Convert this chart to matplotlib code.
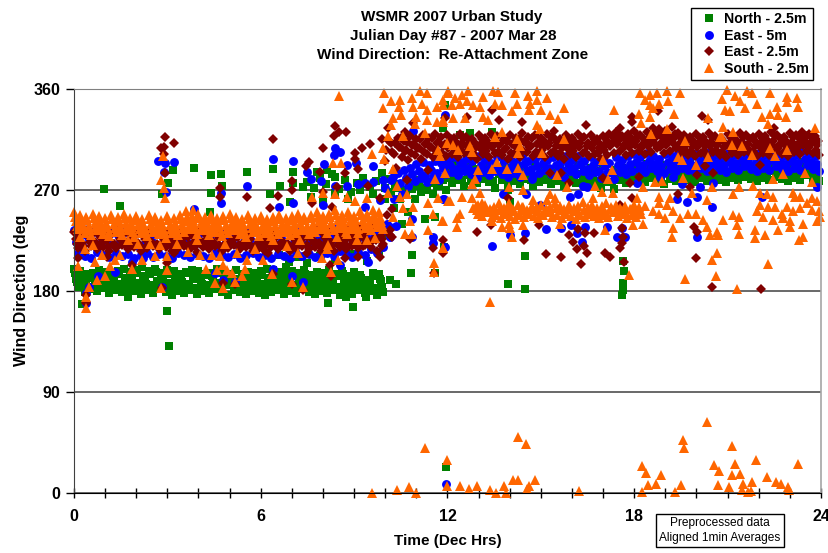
import numpy as np
import matplotlib
matplotlib.use('Agg')
import matplotlib.pyplot as plt

plt.rcParams['font.family'] = ['Liberation Sans', 'DejaVu Sans']

# continuous record: one value per 0.2 h, several passes per sensor
north_a = [200, 198, 186, 196, 199, 197, 195, 198, 200, 197,
           199, 201, 198, 200, 196, 199, 198, 195, 197, 199,
           198, 194, 196, 200, 197, 195, 199, 193, 197, 196,
           198, 200, 199, 197, 201, 198, 196, 199, 194, 197,
           196, 199, 195, 198, 193, 197, 194, 190, 196, 195,
           262, 268, 272, 270, 276, 279, 281, 276, 283, 280,
           290, 292, 288, 293, 290, 289, 291, 287, 289, 292,
           290, 288, 291, 287, 293, 289, 286, 288, 291, 287,
           289, 292, 288, 290, 287, 291, 285, 288, 290, 289,
           292, 289, 293, 290, 288, 292, 294, 291, 289, 293,
           290, 294, 291, 289, 293, 295, 292, 290, 294, 291,
           293, 290, 294, 292, 289, 293, 291, 295, 292, 290]
north_b = [191, 187, 193, 185, 190, 188, 192, 186, 189, 191,
           187, 190, 185, 189, 192, 187, 190, 188, 186, 191,
           188, 185, 190, 187, 192, 186, 189, 185, 188, 190,
           186, 183, 189, 187, 190, 185, 188, 191, 186, 189,
           187, 190, 184, 188, 186, 190, 185, 187, 183, 189,
           230, 254, 262, 268, 271, 274, 270, 277, 274, 279,
           281, 284, 279, 283, 280, 285, 282, 278, 284, 281,
           283, 280, 285, 279, 282, 284, 280, 283, 279, 285,
           281, 284, 280, 283, 278, 282, 277, 284, 281, 283,
           285, 282, 286, 283, 280, 285, 283, 286, 284, 282,
           286, 283, 287, 284, 282, 286, 284, 287, 285, 283,
           286, 284, 287, 285, 283, 286, 284, 288, 285, 283]
north_c = [184, 179, 182, 180, 183, 178, 181, 179, 182, 180,
           177, 181, 178, 182, 179, 176, 180, 178, 181, 177,
           180, 178, 182, 179, 176, 181, 179, 177, 180, 178,
           176, 179, 181, 177, 180, 178, 182, 179, 177, 180,
           178, 181, 176, 179, 177, 181, 178, 180, 176, 179,
           190, 186, 240, 250, 262, 268, 272, 266, 274, 270,
           276, 279, 274, 278, 276, 280, 277, 272, 279, 276,
           278, 275, 280, 274, 277, 279, 275, 278, 274, 280,
           276, 279, 275, 278, 272, 277, 271, 279, 276, 278,
           280, 277, 281, 278, 275, 280, 278, 281, 279, 277,
           281, 278, 282, 279, 277, 281, 279, 282, 280, 278,
           281, 279, 282, 280, 278, 281, 279, 283, 280, 278]
north_am_d = [196, 193, 195, 192, 194, 196, 193, 195, 192, 194,
              196, 193, 195, 197, 193, 195, 192, 194, 196, 193,
              192, 195, 193, 196, 192, 194, 191, 195, 193, 196,
              194, 192, 195, 193, 196, 194, 191, 195, 193, 192,
              194, 191, 193, 195, 190, 194, 192, 188, 193, 191]
north_am_e = [188, 185, 184, 187, 185, 183, 186, 184, 187, 185,
              183, 186, 184, 187, 185, 182, 186, 184, 185, 183,
              186, 184, 187, 183, 185, 187, 184, 182, 186, 184,
              182, 185, 187, 183, 186, 184, 187, 185, 183, 186,
              184, 187, 182, 185, 183, 187, 184, 186, 182, 184]
north_extra_t = [0.96, 1.48, 3.86, 4.40, 4.72, 5.56, 6.39, 4.40, 4.76, 6.30, 6.62, 7.04, 7.04, 6.94, 7.36,
                 7.81, 8.13, 8.39, 3.18, 3.02, 2.83, 4.37, 2.99, 3.05, 8.16, 8.96, 9.38, 8.74, 1.74, 0.26,
                 11.28, 11.6, 10.86, 10.83, 11.6, 11.92, 11.86, 14.49, 13.94, 14.49, 17.64, 17.67, 17.64, 17.64, 17.61,
                 13.94, 14.0, 12.4, 12.72, 13.43, 11.89, 11.95,
                 7.5, 7.7, 7.9, 8.1, 8.3, 8.5, 8.7, 8.9, 9.1, 9.3, 9.5, 9.7, 9.9, 10.1, 10.3,
                 7.6, 8.0, 8.4, 8.8, 9.2, 9.6, 10.0, 6.6, 6.9, 7.2, 7.5, 7.9, 8.4, 8.9, 9.4, 9.8]
north_extra_v = [271, 256, 290, 283, 284, 286, 289, 267, 274, 266, 274, 286, 276, 259, 273,
                 286, 288, 282, 288, 276, 266, 250, 162, 131, 169, 166, 175, 175, 175, 168,
                 244, 246, 212, 196, 196, 346, 325, 211, 186, 182, 207, 198, 187, 181, 176,
                 270, 259, 319, 321, 322, 219, 23,
                 277, 272, 281, 275, 284, 271, 279, 268, 276, 281, 273, 278, 285, 280, 275,
                 264, 259, 267, 262, 270, 266, 272, 212, 206, 210, 205, 211, 208, 213, 207, 215]

east5_a = [234, 232, 230, 233, 231, 234, 232, 230, 233, 231,
           232, 234, 231, 233, 230, 232, 234, 231, 233, 232,
           230, 233, 231, 234, 232, 230, 233, 231, 232, 234,
           232, 230, 233, 231, 234, 232, 235, 233, 231, 234,
           236, 233, 235, 232, 236, 234, 237, 235, 238, 240,
           272, 279, 285, 288, 290, 293, 295, 292, 296, 294,
           297, 299, 295, 298, 296, 300, 297, 294, 299, 296,
           298, 295, 300, 296, 298, 301, 297, 299, 295, 300,
           297, 300, 296, 299, 295, 298, 294, 299, 297, 300,
           302, 299, 303, 300, 298, 302, 300, 303, 301, 299,
           303, 300, 304, 301, 299, 303, 301, 304, 302, 300,
           303, 301, 304, 302, 300, 303, 301, 305, 302, 300]
east5_b = [224, 221, 226, 220, 223, 225, 221, 224, 222, 226,
           220, 223, 225, 221, 224, 222, 220, 225, 223, 221,
           224, 226, 222, 220, 225, 223, 221, 224, 226, 222,
           220, 224, 222, 225, 221, 223, 226, 222, 224, 227,
           225, 228, 224, 226, 229, 225, 228, 226, 230, 232,
           240, 262, 276, 281, 284, 287, 283, 288, 285, 290,
           292, 289, 293, 290, 287, 292, 289, 293, 290, 288,
           291, 288, 293, 289, 291, 294, 290, 292, 288, 293,
           290, 293, 289, 292, 287, 291, 286, 292, 290, 293,
           295, 292, 296, 293, 291, 295, 293, 296, 294, 292,
           296, 293, 297, 294, 292, 296, 294, 297, 295, 293,
           296, 294, 297, 295, 293, 296, 294, 298, 295, 293]
east5_c = [214, 211, 209, 215, 212, 210, 214, 211, 213, 209,
           212, 214, 210, 213, 211, 209, 214, 212, 210, 213,
           211, 209, 214, 212, 210, 213, 209, 212, 214, 210,
           212, 209, 213, 211, 209, 214, 211, 213, 210, 212,
           214, 211, 216, 213, 210, 215, 212, 217, 214, 219,
           228, 238, 266, 274, 278, 281, 277, 282, 279, 284,
           286, 283, 287, 284, 281, 286, 283, 287, 284, 282,
           285, 282, 287, 283, 285, 288, 284, 286, 282, 287,
           284, 287, 283, 286, 281, 285, 280, 286, 284, 287,
           289, 286, 290, 287, 285, 289, 287, 290, 288, 286,
           290, 287, 291, 288, 286, 290, 288, 291, 289, 287,
           290, 288, 291, 289, 287, 290, 288, 292, 289, 287]
east5_extra_t = [2.70, 2.92, 3.21, 2.89, 2.96, 3.86, 4.72, 4.72, 5.56, 6.39, 7.04, 6.59, 7.04, 7.49, 7.61, 7.94,
                 8.03, 8.39, 8.55, 8.35, 8.77, 9.06, 8.39, 8.77, 9.12, 9.35, 9.61, 9.93, 10.25, 9.61, 8.0, 9.35,
                 9.83, 10.15, 10.86, 10.86, 11.53, 11.53, 11.92, 11.89, 11.92, 10.89,
                 0.39, 0.39, 0.48, 0.77, 1.32, 1.86, 2.22, 2.83, 4.79, 5.17, 7.0, 7.36, 6.39, 8.55, 9.45, 4.53,
                 13.43, 13.78, 14.52, 14.72, 15.16, 15.65, 15.97, 16.16, 16.32, 16.42, 14.49, 14.01, 11.86,
                 17.45, 17.7, 17.61, 17.12, 12.98, 20.02, 19.37, 19.69, 20.02, 20.5, 19.53, 20.53, 20.11, 22.1,
                 23.87, 18.83, 19.24, 16.35, 16.19, 15.94, 16.48, 14.97, 18.09, 11.95]
east5_extra_v = [296, 294, 295, 286, 268, 253, 267, 258, 274, 298, 296, 255, 258, 286, 280, 278,
                 293, 307, 304, 301, 292, 294, 274, 274, 275, 276, 277, 279, 282, 291, 257, 255,
                 261, 237, 244, 228, 228, 223, 219, 262, 337, 323,
                 178, 169, 184, 193, 197, 206, 209, 184, 190, 188, 193, 188, 200, 203, 206, 196,
                 220, 266, 266, 280, 235, 236, 239, 232, 224, 237, 232, 230, 262,
                 228, 228, 236, 237, 250, 228, 262, 259, 264, 255, 275, 276, 273, 264,
                 273, 282, 282, 274, 266, 264, 273, 257, 276, 8]

east25_a = [233, 231, 234, 232, 230, 233, 231, 234, 232, 230,
            233, 231, 234, 232, 235, 233, 231, 234, 232, 230,
            233, 231, 234, 232, 230, 234, 232, 233, 231, 234,
            232, 230, 233, 231, 234, 232, 230, 233, 231, 234,
            232, 235, 233, 231, 234, 232, 236, 233, 237, 240,
            296, 312, 316, 314, 318, 315, 319, 316, 320, 317,
            319, 316, 320, 317, 315, 319, 316, 320, 318, 315,
            319, 316, 321, 317, 319, 316, 320, 317, 315, 319,
            316, 320, 317, 319, 315, 318, 320, 322, 318, 320,
            323, 319, 322, 325, 320, 323, 326, 321, 319, 317,
            320, 317, 321, 318, 316, 320, 318, 321, 319, 317,
            320, 318, 322, 319, 317, 321, 319, 322, 320, 318]
east25_b = [226, 223, 228, 224, 227, 225, 222, 226, 224, 228,
            223, 226, 224, 222, 227, 225, 223, 226, 228, 224,
            222, 226, 224, 227, 223, 225, 228, 224, 226, 222,
            225, 223, 227, 224, 222, 226, 224, 228, 225, 223,
            227, 224, 226, 223, 227, 225, 228, 224, 227, 229,
            248, 302, 308, 306, 310, 307, 311, 308, 312, 309,
            311, 308, 312, 309, 307, 311, 308, 312, 310, 307,
            311, 308, 313, 309, 311, 308, 312, 309, 307, 311,
            308, 312, 309, 311, 307, 310, 312, 314, 310, 312,
            314, 311, 313, 316, 312, 314, 316, 312, 310, 309,
            312, 309, 313, 310, 308, 312, 310, 313, 311, 309,
            312, 310, 314, 311, 309, 313, 311, 314, 312, 310]
east25_c = [218, 216, 220, 217, 219, 216, 218, 221, 217, 219,
            216, 218, 220, 217, 219, 216, 218, 220, 217, 215,
            219, 217, 220, 216, 218, 221, 217, 219, 216, 218,
            216, 219, 217, 220, 216, 218, 220, 217, 219, 216,
            218, 216, 219, 217, 220, 218, 221, 219, 216, 222,
            230, 290, 299, 297, 301, 298, 302, 299, 303, 300,
            302, 299, 303, 300, 298, 302, 299, 303, 301, 298,
            302, 299, 304, 300, 302, 299, 303, 300, 298, 302,
            299, 303, 300, 302, 298, 301, 303, 305, 301, 303,
            305, 302, 304, 307, 303, 305, 307, 303, 301, 300,
            303, 300, 304, 301, 299, 303, 301, 304, 302, 300,
            303, 301, 305, 302, 300, 304, 302, 305, 303, 301]
east25_am_d = [222, 220, 224, 221, 223, 219, 222, 225, 220, 223,
               221, 219, 223, 220, 224, 222, 219, 223, 221, 220,
               224, 221, 223, 220, 222, 225, 221, 223, 220, 222,
               219, 223, 221, 224, 220, 222, 225, 221, 223, 220,
               223, 220, 222, 225, 221, 224, 220, 223, 225, 226]
east25_pm_d = [306, 304, 308, 305, 303, 307, 304, 308, 305, 303,
               307, 304, 308, 305, 303, 307, 305, 308, 304, 306,
               303, 307, 305, 308, 304, 306, 309, 305, 303, 307,
               305, 308, 304, 307, 303, 306, 309, 311, 307, 308,
               310, 307, 309, 312, 308, 310, 312, 308, 306, 305,
               308, 305, 309, 306, 304, 308, 306, 309, 307, 305,
               308, 306, 310, 307, 305, 309, 307, 310, 308, 306]
east25_pm_e = [314, 312, 316, 313, 311, 315, 312, 316, 313, 311,
               315, 312, 316, 313, 311, 315, 313, 317, 312, 314,
               311, 315, 313, 316, 312, 314, 317, 313, 311, 315,
               313, 316, 312, 315, 311, 314, 317, 319, 315, 316,
               318, 315, 317, 320, 316, 318, 320, 316, 314, 313,
               316, 313, 317, 314, 312, 316, 314, 317, 315, 313,
               316, 314, 318, 315, 313, 317, 315, 318, 316, 314]
east25_extra_t = [2.92, 3.21, 2.80, 2.89, 2.89, 2.92, 4.69, 4.69, 5.56, 6.39, 6.55, 6.30, 7.0, 7.0, 7.55, 7.45,
                  7.9, 8.0, 8.39, 8.35, 8.51, 8.74, 9.03, 9.03, 9.25, 9.51, 9.9, 10.09, 9.12, 8.71, 8.45, 8.0,
                  8.29, 7.65, 9.45, 9.83, 10.22, 10.7, 11.37, 11.92, 10.89, 10.63, 10.8, 11.53, 11.86, 11.86,
                  10.22, 10.15, 0.13, 0.39, 0.39, 1.06, 1.86, 2.99, 3.21, 6.23, 7.49, 8.22, 8.26, 8.71, 9.12,
                  9.83, 9.9, 2.83, 4.79, 5.17, 7.0, 7.36, 6.39, 11.57,
                  13.65, 14.39, 16.45, 17.54, 17.93, 17.93, 18.76, 18.8, 20.18, 20.37, 13.43, 12.63, 22.49, 15.42,
                  12.95, 13.4, 13.94, 13.98, 14.46, 14.94, 15.16, 15.65, 16.29, 16.16, 16.48, 16.39, 16.03, 15.9,
                  16.19, 16.42, 16.71, 17.06, 17.22, 17.61, 17.64, 17.61, 17.54, 17.67, 17.86, 18.15, 15.9, 17.0,
                  17.54, 17.93, 19.41, 19.79, 19.92, 20.02, 19.98, 20.5, 22.07, 22.04, 20.27, 20.02, 20.53, 15.29,
                  15.65]
east25_extra_v = [317, 312, 307, 308, 302, 285, 272, 264, 264, 315, 265, 254, 278, 270, 295, 291,
                  286, 307, 327, 318, 322, 322, 303, 298, 307, 311, 315, 325, 289, 285, 273, 268,
                  255, 258, 274, 263, 253, 279, 288, 334, 330, 322, 226, 218, 225, 214,
                  228, 234, 209, 176, 169, 210, 203, 205, 214, 214, 214, 203, 193, 209, 210,
                  210, 220, 183, 187, 186, 186, 181, 195, 196,
                  332, 331, 328, 325, 335, 331, 340, 324, 336, 332, 341, 335, 325, 323,
                  233, 239, 263, 250, 225, 239, 213, 210, 204, 217, 214, 220, 224, 230,
                  235, 232, 232, 214, 210, 236, 228, 223, 218, 206, 276, 282, 276, 281,
                  257, 263, 266, 273, 237, 233, 209, 184, 182, 292, 291, 283, 285, 285,
                  285]

# south sensor sits on a tight band only in the morning and mid afternoon
south_am_a = [250, 248, 246, 249, 247, 245, 248, 246, 249, 245,
              247, 244, 248, 246, 243, 247, 245, 248, 251, 247,
              249, 246, 248, 245, 247, 249, 246, 244, 248, 245,
              247, 244, 246, 248, 245, 247, 249, 246, 248, 250,
              247, 249, 252, 248, 250, 247, 251, 249, 252, 250]
south_am_b = [242, 240, 238, 241, 239, 237, 240, 238, 241, 237,
              239, 236, 240, 238, 235, 239, 237, 240, 242, 239,
              241, 238, 240, 237, 239, 241, 238, 236, 240, 237,
              239, 236, 238, 240, 237, 239, 241, 238, 240, 242,
              239, 241, 243, 240, 242, 239, 243, 241, 244, 242]
south_am_c = [235, 232, 230, 234, 231, 229, 233, 230, 234, 228,
              232, 229, 233, 231, 227, 232, 230, 233, 235, 231,
              234, 230, 233, 229, 232, 234, 231, 228, 233, 229,
              232, 229, 231, 233, 230, 232, 234, 231, 233, 235,
              232, 234, 236, 233, 235, 232, 236, 234, 237, 235]
south_am_d = [246, 244, 243, 245, 242, 241, 244, 242, 245, 241,
              243, 240, 244, 242, 240, 243, 241, 244, 246, 243,
              245, 242, 244, 241, 243, 245, 242, 240, 244, 241,
              243, 240, 242, 244, 241, 243, 245, 243, 245, 246,
              244, 246, 248, 245, 247, 244, 248, 246, 248, 246]
south_am_e = [238, 236, 234, 237, 235, 233, 236, 234, 237, 233,
              235, 233, 236, 234, 232, 235, 233, 236, 238, 235,
              237, 234, 236, 233, 235, 237, 234, 232, 236, 233,
              235, 232, 234, 236, 233, 235, 237, 234, 236, 238,
              235, 237, 239, 236, 238, 235, 240, 238, 241, 239]
south_pm_a = [256, 254, 257, 253, 255, 258, 254, 256, 253, 257,
              255, 252, 256, 254, 257, 253, 255, 258, 256, 253,
              257, 254, 256, 259, 255, 257, 254, 256, 258, 255,
              257, 254, 256, 253, 257, 255]
south_pm_b = [249, 247, 250, 246, 248, 245, 249, 247, 244, 248,
              246, 249, 247, 245, 248, 250, 246, 248, 245, 249,
              247, 244, 248, 246, 249, 247, 245, 248, 246, 250,
              247, 249, 245, 248, 246, 249]
south_pm_c = [252, 250, 253, 251, 249, 252, 250, 253, 251, 249,
              252, 250, 253, 251, 249, 252, 250, 254, 252, 250,
              253, 251, 249, 252, 251, 253, 250, 252, 249, 253,
              251, 252, 250, 253, 251, 252]
south_extra_t = [0.39, 0.39, 0.49, 0.75, 1.0, 1.16, 1.32, 1.48, 1.85, 2.17, 2.6, 2.8, 3.0, 2.98, 2.76, 3.67, 4.05,
                 4.23, 4.42, 4.53, 4.8, 4.58, 4.8, 4.69, 4.9, 5.07, 5.17, 5.39, 5.49, 5.55, 5.23, 6.08, 6.37, 6.99,
                 7.35, 7.2, 7.96, 8.12, 8.49, 8.25, 8.17, 8.44, 8.76, 7.26, 6.83, 9.08, 9.4, 9.67, 0.14, 0.67, 0.89,
                 0.35, 0.19, 0.62, 2.07, 1.75, 2.44, 3.3, 3.94, 4.85, 5.82, 6.4,
                 2.8, 2.89, 2.92, 2.87, 3.83, 8.52, 8.33, 8.58, 9.56, 9.94, 9.96, 10.26, 7.64, 8.01, 8.39, 9.4, 9.03,
                 8.76, 10.1, 10.37, 10.47, 10.69, 10.9, 10.58, 10.26, 11.38, 11.71, 12.03, 11.52, 11.81, 11.38, 10.8,
                 10.63, 10.85, 11.57, 11.57, 11.87,
                 9.97, 9.94, 10.2, 10.47, 10.45, 10.85, 10.5, 10.26, 10.2, 10.08, 11.12, 11.33, 10.9, 11.17, 11.33,
                 11.65, 11.87, 12.03, 11.0, 11.33, 11.65, 11.87, 10.96, 11.28, 10.58, 11.71, 11.76, 11.6, 11.92,
                 12.03, 12.24, 12.46, 12.67, 11.87, 12.13, 12.4, 12.62, 12.83, 13.15, 13.47, 13.63, 14.17, 14.6,
                 14.87, 15.19, 14.87, 14.65, 14.22, 14.06, 13.74, 13.53, 13.05, 13.15, 13.31, 12.56, 12.19, 11.87,
                 11.97, 12.19, 12.35, 12.72, 12.78, 13.53, 13.74, 14.63, 15.0, 15.29, 15.54, 15.75, 14.87, 14.97,
                 17.36, 18.15, 18.22, 18.51, 18.19, 18.51, 18.72, 19.04, 19.47, 18.51, 18.35, 18.78, 19.1, 18.61,
                 19.29, 18.53, 19.04, 20.36, 20.81, 20.97, 21.24, 21.61, 21.77, 21.4, 21.56, 21.93, 22.36, 22.9,
                 23.22, 22.9, 23.27, 22.58, 22.36, 22.63, 22.1, 22.88, 22.31, 20.92, 21.08, 20.84, 21.16, 20.76,
                 23.81, 13.58, 14.22, 14.33, 14.28, 13.42, 13.9, 14.28, 14.44, 12.99, 12.88, 12.78, 15.51, 15.75,
                 15.03, 17.0, 17.28, 17.17, 19.63, 19.42, 19.52, 20.0, 20.38, 21.45, 21.13, 22.52, 22.36, 22.9,
                 21.77, 20.81, 19.56, 18.88, 18.67, 22.79, 22.47, 23.49, 23.7,
                 12.08, 12.46, 12.78, 13.05, 13.1, 12.83, 12.99, 12.4, 12.3, 12.3, 11.85, 13.42, 13.39, 13.74, 13.96,
                 13.69, 13.96, 14.44, 13.96, 14.01, 14.06, 11.87, 15.29, 15.19, 15.45, 14.76, 14.44, 14.87, 15.83,
                 16.74, 16.95, 17.33, 16.69, 18.29, 18.08, 18.35, 18.61, 18.29, 17.97, 17.06, 15.62, 14.44, 17.84,
                 18.78, 18.78, 19.15, 19.04, 18.78, 18.99, 19.26, 19.47, 19.74, 19.85, 20.0, 20.22, 20.33, 20.65,
                 20.43, 20.7, 20.86, 21.18, 21.35, 21.29, 21.35, 21.88, 21.88, 22.2, 21.18, 21.35, 21.83, 22.04,
                 22.26, 22.04, 22.31, 21.93, 22.15, 22.52, 22.74, 22.47, 22.79, 23.0, 22.63, 23.0, 23.43, 23.33,
                 23.33, 23.54, 23.7, 23.86, 23.92, 23.7, 23.97, 23.86, 23.43, 23.3, 22.47, 23.17, 22.9, 23.11,
                 19.26, 19.2, 20.65, 20.49, 22.31, 20.63, 19.63, 21.31, 13.37, 20.33, 20.49, 23.11,
                 9.58, 10.39, 10.75, 10.99, 11.27, 11.97, 11.97, 12.4, 12.69, 12.95, 13.37, 13.55, 13.83, 13.87,
                 14.12, 14.25, 14.26, 14.53, 14.55, 14.63, 14.81, 16.23, 18.24, 18.26, 18.38, 18.44, 18.7, 18.86,
                 19.3, 19.49, 19.58, 19.6, 20.34, 20.56, 20.72, 20.68, 21.04, 21.14, 21.24, 21.14, 21.41, 21.49,
                 21.45, 21.67, 21.74, 21.79, 21.92, 22.26, 22.56, 22.73, 22.95, 22.97, 23.26]
south_extra_v = [165, 175, 184, 190, 193, 202, 208, 212, 200, 208, 211, 183, 199, 211, 221, 215, 212,
                 200, 212, 187, 183, 199, 203, 211, 199, 196, 188, 193, 200, 208, 214, 208, 195, 188,
                 184, 214, 209, 217, 208, 197, 221, 228, 231, 225, 220, 225, 225, 227, 202, 206, 212,
                 217, 228, 221, 222, 225, 222, 222, 225, 222, 217, 225,
                 279, 272, 263, 300, 252, 354, 294, 294, 302, 307, 298, 289, 264, 267, 266, 263, 260,
                 264, 267, 274, 264, 266, 255, 254, 246, 258, 263, 260, 249, 242, 234, 242,
                 231, 231, 205, 197, 218,
                 356, 343, 349, 350, 344, 352, 337, 334, 328, 318, 358, 356, 344, 347, 341,
                 344, 346, 356, 335, 332, 331, 332, 329, 321, 318, 306, 300, 280, 285,
                 358, 352, 355, 358, 350, 346, 347, 349, 346, 353, 358, 357, 356, 354,
                 358, 352, 350, 347, 347, 340, 346, 347, 344, 335, 332, 334, 334, 331,
                 312, 310, 306, 309, 304, 317, 322, 341, 341, 337, 333, 343, 328, 324,
                 341, 338, 330, 335, 356, 355, 356, 358, 356, 346, 350, 347, 349, 343,
                 338, 320, 324, 334, 351, 359, 354, 358, 356, 349, 343, 347, 356, 353,
                 352, 348, 344, 344, 338, 337, 335, 335, 329, 341, 340, 326, 322, 317,
                 325, 295, 315, 309, 303, 289, 289, 290, 283, 288, 280, 275, 283, 315,
                 303, 297, 288, 280, 314, 299, 297, 292, 299, 309, 310, 300, 307, 306,
                 301, 317, 281, 278, 277, 284, 280, 285, 277,
                 260, 264, 263, 267, 258, 254, 257, 249, 245, 237, 242, 242, 251, 237, 240,
                 254, 273, 270, 258, 236, 228, 218, 266, 261, 263, 261, 255, 255, 273,
                 274, 268, 267, 263, 273, 263, 256, 251, 240, 239, 234, 240, 239, 194,
                 264, 258, 263, 257, 249, 245, 251, 245, 249, 267, 249, 243, 237, 233,
                 230, 230, 243, 248, 246, 239, 231, 234, 227, 230, 266, 273, 274, 267,
                 266, 257, 255, 251, 246, 255, 249, 243, 245, 242, 234, 237, 240, 254,
                 264, 258, 263, 260, 251, 252, 246, 242, 228, 225, 264, 264, 255, 251,
                 236, 228, 214, 208, 204, 193, 191, 182, 170, 261, 273, 267,
                 0, 3, 5, 0, 40, 29, 6, 6, 4, 6, 3, 0, 6, 0,
                 12, 12, 50, 44, 4, 6, 12, 2, 0.5, 24, 18, 7, 8, 16,
                 0.5, 7, 47, 40, 63, 25, 20, 7, 5, 42, 26, 16, 17, 8,
                 3, 0.5, 2, 10, 29, 14, 10, 8, 5, 3, 26]

hour_ticks = [0, 6, 12, 18, 24]
direction_ticks = [0, 90, 180, 270, 360]

fig = plt.figure(figsize=(8.29, 5.53), dpi=100)
ax = fig.add_axes([74 / 829, 1 - 493 / 553, 747 / 829, 404 / 553])
ax.set_axisbelow(True)

day = np.arange(120) * 0.2
am = np.arange(50) * 0.2
late = 10 + np.arange(70) * 0.2
pm = 12.9 + np.arange(36) * 0.15


def draw(rows, extra_t, extra_v, marker, size, color, label):
    t = np.concatenate([r[0] for r in rows] + [extra_t])
    v = np.concatenate([r[1] for r in rows] + [extra_v])
    ax.plot(t, v, ls='none', marker=marker, ms=size, mfc=color, mec=color, mew=0,
            clip_on=False, label=label)


draw([(day, north_a), (day + 0.07, north_b), (day + 0.14, north_c),
      (am + 0.03, north_am_d), (am + 0.11, north_am_e)], north_extra_t, north_extra_v,
     's', 5.8, '#008000', 'North - 2.5m')
draw([(day, east5_a), (day + 0.07, east5_b), (day + 0.14, east5_c)], east5_extra_t, east5_extra_v,
     'o', 6.4, '#0000ff', 'East - 5m')
draw([(day, east25_a), (day + 0.07, east25_b), (day + 0.14, east25_c), (am + 0.1, east25_am_d),
      (late + 0.03, east25_pm_d), (late + 0.11, east25_pm_e)], east25_extra_t, east25_extra_v,
     'D', 4.6, '#800000', 'East - 2.5m')
draw([(am, south_am_a), (am + 0.07, south_am_b), (am + 0.14, south_am_c),
      (am + 0.03, south_am_d), (am + 0.11, south_am_e),
      (pm, south_pm_a), (pm + 0.07, south_pm_b), (pm + 0.04, south_pm_c)], south_extra_t, south_extra_v,
     '^', 6.6, '#ff6600', 'South - 2.5m')

ax.set_xlim(0, 24)
ax.set_ylim(0, 360)
ax.set_xticks(hour_ticks)
ax.set_xticks(range(25), minor=True)
ax.set_yticks(direction_ticks)
ax.grid(axis='y', color='#404040', lw=1.1)
ax.tick_params(axis='x', which='both', direction='inout', length=7, width=1, pad=8, labelsize=11.5)
ax.tick_params(axis='y', direction='out', length=6, width=1, pad=4, labelsize=11.5)
for lab in ax.get_xticklabels() + ax.get_yticklabels():
    lab.set_fontweight('bold')
ax.spines['top'].set_color('#808080')
ax.spines['right'].set_color('#a6a6a6')
ax.spines['right'].set_linewidth(1.2)
ax.spines['left'].set_color('#404040')
ax.spines['bottom'].set_color('black')

fig.text(452 / 829, 1 - 17 / 553, 'WSMR 2007 Urban Study', ha='center', va='center', fontsize=11, fontweight='bold')
fig.text(453 / 829, 1 - 36 / 553, 'Julian Day #87 - 2007 Mar 28', ha='center', va='center', fontsize=11, fontweight='bold')
fig.text(453 / 829, 1 - 55 / 553, 'Wind Direction:  Re-Attachment Zone', ha='center', va='center', fontsize=11, fontweight='bold')
fig.text(22 / 829, 1 - 290 / 553, 'Wind Direction (deg', rotation=90, ha='center', va='center', fontsize=11.5, fontweight='bold')
fig.text(448 / 829, 1 - 541 / 553, 'Time (Dec Hrs)', ha='center', va='center', fontsize=11, fontweight='bold')

leg = fig.legend(loc='upper left', bbox_to_anchor=(691 / 829, 1 - 8 / 553), prop={'weight': 'bold', 'size': 10.2},
                 frameon=True, fancybox=False, edgecolor='black', framealpha=1, borderpad=0.28,
                 labelspacing=0.18, handletextpad=0.05, handlelength=2.0, borderaxespad=0)
leg.get_frame().set_linewidth(1)

fig.text(720 / 829, 1 - 530.5 / 553, 'Preprocessed data\nAligned 1min Averages', ha='center', va='center', fontsize=8.6,
         linespacing=1.25, zorder=10,
         bbox=dict(boxstyle='square,pad=0.3', fc='white', ec='black', lw=1))

fig.savefig('out.png', dpi=100)
